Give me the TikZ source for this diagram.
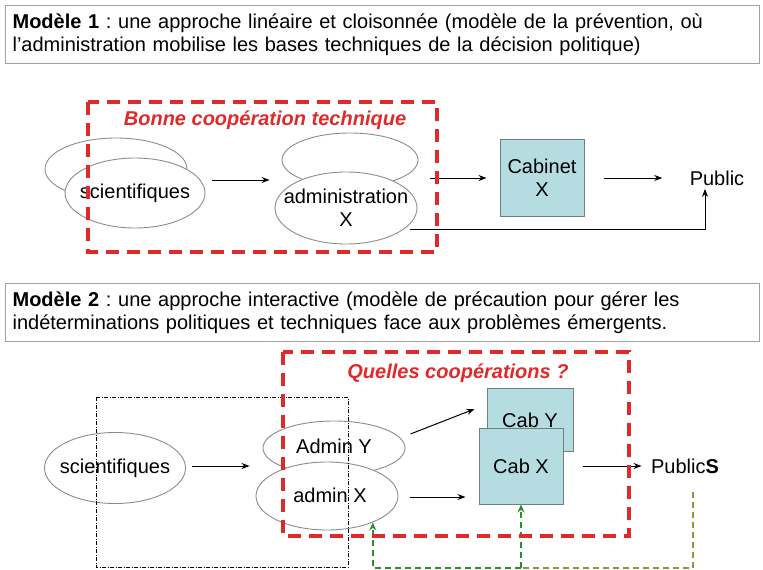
\documentclass[tikz,border=0pt]{standalone}
\usepackage{fontspec}
\setmainfont{Liberation Sans}
\usetikzlibrary{shapes.geometric,arrows.meta,positioning}
\frenchspacing

\definecolor{coopred}{HTML}{E02A2A}
\definecolor{bulleline}{HTML}{8C8C8C}
\definecolor{cabfill}{HTML}{B5DCE0}
\definecolor{cabline}{HTML}{6E7F80}
\definecolor{capline}{HTML}{A0A0A0}
\definecolor{vert}{HTML}{2E8B2E}
\definecolor{olivevert}{HTML}{8A9A3A}

\begin{document}
\begin{tikzpicture}[x=1pt,y=-1pt,
  every node/.style={font=\fontsize{20}{23}\selectfont},
  bulle/.style={ellipse,draw=bulleline,line width=0.9pt,fill=white,inner sep=0pt},
  cabinet/.style={rectangle,draw=cabline,line width=1pt,fill=cabfill,inner sep=0pt,align=center},
  legende/.style={rectangle,draw=capline,line width=1.2pt,anchor=north west,align=left,
    text width=740pt,inner xsep=7pt,minimum height=58pt},
  fleche/.style={-{Stealth[length=8pt,width=6pt]},line width=1pt},
  zone/.style={draw=coopred,line width=3.6pt,dash pattern=on 13pt off 8pt},
  zonetitre/.style={text=coopred,font=\fontsize{20}{23}\selectfont\bfseries\itshape},
  retour/.style={line width=1.8pt,dash pattern=on 6pt off 4pt,-{Stealth[length=8pt,width=7pt]}},
  pointille/.style={draw=black,line width=0.8pt,dash pattern=on 4pt off 1.5pt on 1pt off 1.5pt}]
\useasboundingbox (0,0) rectangle (763,570);

% titres des deux modeles
\node[legende] (modele1) at (5,5)
  {\textbf{Modèle 1} : une approche linéaire et cloisonnée (modèle de la prévention, où\\
   l’administration mobilise les bases techniques de la décision politique)};
\node[legende] (modele2) at (5,283)
  {\textbf{Modèle 2} : une approche interactive (modèle de précaution pour gérer les\\
   indéterminations politiques et techniques face aux problèmes émergents.};

% modele 1
\node[bulle, minimum width=142pt, minimum height=62pt] (sciB) at (116,169) {};
\path (sciB) ++ (19,24) node[bulle, minimum width=140pt, minimum height=70pt] (sciF) {};
\node (sciFt) at (sciF) {scientifiques};
\node[bulle, minimum width=136pt, minimum height=54pt] (admB) at (350,160) {};
\path (admB) ++ (-4,48) node[bulle, minimum width=142pt, minimum height=72pt] (admF) {};
\node[align=center] (admFt) at (admF) {administration\\X};
\node[cabinet, minimum width=84pt, minimum height=77pt] (cab1) at (542,178) {Cabinet\\X};
\node (pub1) at (717,178) {Public};

\draw[fleche] ([xshift=7pt,yshift=13pt]sciF.east) -- ([xshift=-5pt,yshift=28pt]admF.west);
\draw[fleche] ([xshift=13pt,yshift=30pt]admF.east) -- ([xshift=-13pt]cab1.west);
\draw[fleche] ([xshift=19pt]cab1.east) -- ([xshift=-24pt]pub1.west);
\draw[fleche] ([xshift=-7pt,yshift=-21pt]admF.east) -| ([xshift=-12pt]pub1.south);

\draw[zone] (88,102) rectangle (437,252);
\node[zonetitre] (titre1) at (265,120) {Bonne coopération technique};

% modele 2
\node[bulle, minimum width=141pt, minimum height=71pt] (sci2) at (115,468) {};
\node (sci2t) at (sci2) {scientifiques};
\node[bulle, minimum width=142pt, minimum height=54pt] (admY) at (334,448) {};
\node (admYt) at (334,446) {Admin Y};
\path (admY) ++ (-7,48) node[bulle, minimum width=142pt, minimum height=68pt] (admX) {};
\node (admXt) at (330,495) {admin X};
\node[cabinet, minimum width=86pt, minimum height=63pt] (cabY) at (530,420) {Cab Y};
\node[cabinet, minimum width=84pt, minimum height=76pt] (cabX) at (521,466) {Cab X};
\node (pub2) at (685,466) {Public\textbf{S}};

\draw[fleche] ([xshift=6pt,yshift=2pt]sci2.east) -- ([xshift=-13pt,yshift=-18pt]admY.west);
\draw[fleche] ([xshift=5pt,yshift=14pt]admY.east) -- ([xshift=-12pt,yshift=11pt]cabY.west);
\draw[fleche] ([xshift=12pt,yshift=-1pt]admX.east) -- ([xshift=-13pt,yshift=-31pt]cabX.west);
\draw[fleche] ([xshift=19pt]cabX.east) -- ([xshift=-6pt]pub2.west);

% boucles de retour
\coordinate (coin) at (693,568);
\draw[retour, draw=olivevert, -] ([xshift=8pt,yshift=-15pt]pub2.south) -- (coin) -- (coin -| cabX.south);
\draw[retour, draw=vert, vert] (coin -| cabX.south) -- (cabX.south);
\draw[retour, draw=vert, vert] (coin -| cabX.south) -| (admX.-30);

\draw[pointille] (96,397) rectangle (348,567);
\draw[zone] (283,352) rectangle (629,536);
\node[zonetitre] (titre2) at (458,373) {Quelles coopérations ?};
\end{tikzpicture}
\end{document}
